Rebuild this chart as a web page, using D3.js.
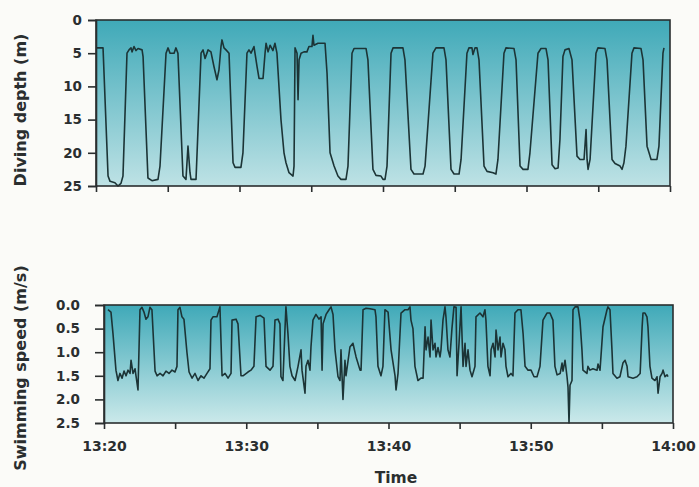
<!DOCTYPE html>
<html><head><meta charset="utf-8">
<script src="https://cdn.jsdelivr.net/npm/d3@7"></script>
<style>
html,body{margin:0;padding:0;background:#fbfbf8;}
svg{display:block;font-family:"DejaVu Sans",sans-serif;}
</style></head>
<body><svg id="c" width="699" height="487"></svg>
<script>
// minutes after 13:20
const depthTime = [0.00,0.07,0.49,0.84,0.98,1.32,1.53,1.74,1.88,2.16,2.30,2.44,2.51,2.65,2.79,2.93,3.21,3.28,3.62,3.90,4.32,4.46,4.88,5.02,5.16,5.44,5.57,5.71,6.06,6.27,6.41,6.55,6.62,6.97,7.32,7.46,7.60,7.81,8.01,8.22,8.43,8.57,8.71,8.78,8.92,9.06,9.27,9.55,9.69,10.10,10.24,10.52,10.66,10.80,11.01,11.22,11.36,11.64,11.78,11.85,11.99,12.13,12.33,12.47,12.61,12.89,13.10,13.24,13.45,13.73,13.80,13.87,14.01,14.08,14.15,14.29,14.49,14.70,14.84,15.05,15.12,15.19,15.47,15.96,16.10,16.31,16.59,16.86,17.07,17.42,17.56,17.84,17.98,18.82,18.95,19.30,19.51,19.86,20.00,20.14,20.28,20.56,20.70,21.39,21.53,21.95,22.16,22.79,22.93,23.48,23.69,24.25,24.39,24.74,24.95,25.30,25.44,25.85,25.99,26.20,26.27,26.41,26.55,26.69,27.04,27.25,27.67,27.87,28.01,28.43,28.57,29.13,29.27,29.55,29.76,30.10,30.24,30.80,31.01,31.36,31.50,31.78,31.99,32.20,32.33,32.54,32.68,32.96,33.17,33.52,33.73,34.01,34.15,34.22,34.29,34.43,34.84,34.98,35.47,35.61,35.96,36.17,36.52,36.66,36.79,36.93,37.35,37.49,37.98,38.12,38.40,38.54,38.68,39.09,39.23,39.51,39.58];
const depthValue = [4.2,4.2,4.2,23.5,24.3,24.5,25.0,24.6,23.5,5.0,4.5,4.2,4.8,4.0,4.6,4.3,4.5,5.5,23.8,24.2,24.0,22.0,5.0,4.2,5.0,5.0,4.2,5.0,23.5,24.0,19.0,23.0,24.0,24.0,5.0,4.5,5.8,4.5,4.8,7.0,9.0,7.5,4.0,3.0,4.2,4.5,5.0,21.5,22.2,22.2,20.0,5.0,4.5,5.0,4.0,7.0,8.8,8.8,5.0,3.5,4.8,3.8,4.6,3.5,5.0,15.0,20.0,21.5,23.0,23.5,22.0,4.2,5.0,12.0,6.0,5.0,4.8,4.8,4.0,4.0,2.3,3.8,3.5,3.5,8.0,20.0,22.0,23.5,24.0,24.0,22.0,5.0,4.3,4.3,6.0,22.5,23.4,23.5,24.0,24.0,22.0,5.0,4.2,4.2,6.0,22.5,23.2,23.2,22.0,5.0,4.2,4.2,6.0,22.5,23.2,23.2,21.0,5.0,4.2,4.2,5.2,4.2,4.2,6.0,22.0,22.8,23.0,23.2,21.0,5.0,4.2,4.3,6.0,22.0,22.5,22.5,20.0,5.0,4.3,4.3,6.0,21.8,22.4,22.3,18.0,5.5,4.5,4.3,6.0,20.5,21.0,21.0,16.5,21.0,22.5,21.0,5.0,4.2,4.3,6.0,21.0,21.6,22.0,22.5,21.5,19.0,5.0,4.2,4.3,6.0,19.0,20.0,21.0,21.0,19.0,5.0,4.2];

const speedTime = [0.28,0.49,0.63,0.84,0.98,1.12,1.27,1.41,1.55,1.69,1.83,1.90,2.04,2.18,2.25,2.39,2.53,2.67,2.81,2.95,3.09,3.23,3.37,3.59,3.73,3.94,4.15,4.36,4.57,4.78,4.99,5.13,5.20,5.34,5.48,5.62,5.83,5.98,6.19,6.40,6.61,6.82,7.03,7.24,7.45,7.52,7.66,7.94,8.15,8.30,8.51,8.72,8.93,9.00,9.28,9.42,9.63,9.77,10.12,10.33,10.54,10.69,10.97,11.25,11.39,11.67,11.88,12.02,12.23,12.37,12.44,12.58,12.72,12.79,12.93,13.07,13.22,13.43,13.64,13.85,13.92,14.13,14.20,14.34,14.48,14.55,14.69,14.90,15.11,15.26,15.33,15.40,15.61,15.82,15.96,16.10,16.24,16.45,16.59,16.66,16.80,16.94,17.01,17.29,17.50,17.72,18.00,18.07,18.21,18.42,18.70,19.05,19.12,19.26,19.47,19.61,19.75,19.97,20.18,20.46,20.53,20.67,20.88,21.16,21.37,21.51,21.58,21.72,21.86,22.07,22.28,22.43,22.57,22.64,22.78,22.92,22.99,23.13,23.27,23.34,23.48,23.62,23.69,23.83,23.97,24.04,24.18,24.32,24.46,24.60,24.75,24.82,24.96,25.10,25.24,25.38,25.45,25.59,25.73,25.87,26.08,26.15,26.43,26.64,26.78,26.85,26.99,27.14,27.21,27.35,27.49,27.56,27.70,27.84,27.91,28.05,28.19,28.26,28.40,28.61,28.75,28.89,29.10,29.31,29.46,29.60,29.81,30.02,30.23,30.44,30.65,30.86,31.14,31.35,31.56,31.70,31.85,32.07,32.20,32.27,32.41,32.55,32.62,32.69,32.76,32.90,32.97,33.11,33.32,33.46,33.60,33.67,33.95,34.02,34.16,34.37,34.66,34.73,34.87,35.08,35.36,35.43,35.57,35.71,35.78,36.06,36.27,36.48,36.63,36.77,36.84,37.19,37.47,37.69,37.83,37.89,38.03,38.17,38.24,38.38,38.52,38.73,38.88,38.95,39.09,39.23,39.30,39.44,39.58,39.65];
const speedValue = [0.10,0.15,0.60,1.38,1.60,1.45,1.55,1.40,1.50,1.38,1.45,1.17,1.45,1.35,1.50,1.80,0.10,0.05,0.15,0.30,0.25,0.05,0.10,1.40,1.50,1.45,1.50,1.40,1.45,1.38,1.42,1.30,0.10,0.05,0.25,0.30,1.00,1.42,1.55,1.45,1.60,1.50,1.55,1.45,1.35,0.32,0.25,0.25,0.04,1.50,1.45,1.55,1.45,0.32,0.30,0.40,1.50,1.50,1.42,1.38,1.30,0.25,0.22,0.28,1.30,1.38,1.30,0.32,0.30,0.40,1.52,1.60,0.53,0.04,0.60,1.30,1.50,1.60,1.30,0.95,1.38,1.87,1.30,1.17,1.38,0.89,0.32,0.20,0.30,0.25,1.38,0.40,0.20,0.10,0.04,0.20,0.95,1.52,1.60,0.95,2.00,1.17,1.50,0.89,0.81,1.10,1.38,1.38,0.10,0.07,0.08,0.10,0.25,1.30,1.50,1.30,0.10,0.15,0.95,1.50,1.80,1.45,0.17,0.10,0.10,0.04,0.32,0.50,1.30,1.60,1.55,1.55,0.46,0.95,0.68,1.10,0.32,0.95,0.81,1.10,0.90,1.10,0.95,0.32,0.04,0.25,0.95,1.10,0.50,0.04,0.05,1.50,0.80,0.04,1.30,0.81,1.30,0.95,1.38,1.52,1.30,0.25,0.17,0.25,0.10,0.32,1.30,1.50,0.95,0.81,1.10,0.53,0.95,0.68,1.10,0.81,0.95,1.30,1.52,1.45,1.50,0.17,0.10,0.10,0.60,1.30,1.38,1.38,1.52,1.52,1.30,0.32,0.17,0.17,0.32,1.30,1.48,1.45,1.23,1.40,1.17,1.52,1.74,2.50,1.70,1.60,0.10,0.04,0.04,0.32,0.95,1.38,1.45,1.30,1.38,1.35,1.38,1.25,1.38,0.46,0.10,0.04,0.10,0.95,1.45,1.55,1.52,1.23,1.17,1.30,1.52,1.55,1.52,1.45,0.46,0.17,0.17,0.25,0.46,1.30,1.55,1.60,1.52,1.87,1.52,1.45,1.38,1.52,1.48,1.52];

const depthTicks = [0,5,10,15,20,25];
const speedTicks = [0.0,0.5,1.0,1.5,2.0,2.5];

const base = new Date(2000,0,1,13,20,0);
const toDate = m => new Date(base.getTime() + m*60000);
const end = toDate(40);

const svg = d3.select("#c");
const defs = svg.append("defs");
function grad(id, c0, c1){
  const g = defs.append("linearGradient").attr("id",id).attr("x1",0).attr("y1",0).attr("x2",0).attr("y2",1);
  g.append("stop").attr("offset","0%").attr("stop-color",c0);
  g.append("stop").attr("offset","100%").attr("stop-color",c1);
}
grad("bg1","#3fa9b8","#bee2e5");
grad("bg2","#3fa9b8","#cbe9ea");

const ink = "#2a2e2f";
const lineCol = "#1c3436";
const FONT = "'DejaVu Sans',sans-serif";

function panel(opts){
  const x = d3.scaleTime().domain([base,end]).range(opts.xr);
  const y = d3.scaleLinear().domain(opts.yd).range(opts.yr);
  const [x0,x1] = opts.xr, [y0,y1] = opts.yr;
  svg.append("rect").attr("x",x0).attr("y",y0).attr("width",x1-x0).attr("height",y1-y0)
    .attr("fill",`url(#${opts.grad})`);
  const line = d3.line().x(d=>x(toDate(d[0]))).y(d=>y(d[1]));
  const pts = opts.t.map((t,i)=>[t,opts.v[i]]);
  svg.append("path").attr("d",line(pts)).attr("fill","none").attr("stroke",lineCol)
    .attr("stroke-width",1.6).attr("stroke-linejoin","round");
  svg.append("rect").attr("x",x0).attr("y",y0).attr("width",x1-x0).attr("height",y1-y0)
    .attr("fill","none").attr("stroke",ink).attr("stroke-width",1.6);
  // y axis
  const ya = svg.append("g").attr("transform",`translate(${x0},0)`)
    .call(d3.axisLeft(y).tickValues(opts.yticks).tickSize(opts.ytick).tickPadding(opts.ypad).tickFormat(opts.yfmt));
  ya.select(".domain").attr("stroke",ink).attr("stroke-width",1.6);
  ya.selectAll(".tick line").attr("stroke",ink).attr("stroke-width",1.6);
  ya.selectAll("text").attr("fill",ink).attr("font-size",13.5).attr("font-weight","bold")
    .attr("font-family",FONT);
  // x axis
  const xa = svg.append("g").attr("transform",`translate(0,${y1})`)
    .call(d3.axisBottom(x).ticks(d3.timeMinute.every(5)).tickSize(6).tickPadding(12)
      .tickFormat(d => opts.showX && d.getMinutes()%10===0 ? d3.timeFormat("%H:%M")(d) : ""));
  xa.select(".domain").remove();
  xa.selectAll(".tick line").attr("stroke",ink).attr("stroke-width",1.6);
  xa.selectAll("text").attr("fill",ink).attr("font-size",14).attr("font-weight","bold")
    .attr("font-family",FONT);
  // y title
  svg.append("text").attr("transform",`translate(${opts.titleX},${opts.titleY}) rotate(-90)`)
    .attr("text-anchor","middle").attr("font-size",16).attr("font-weight","bold").attr("fill",ink)
    .attr("font-family",FONT).text(opts.title);
}

panel({xr:[96,670], yr:[20,186], yd:[0,25], t:depthTime, v:depthValue, grad:"bg1",
  yticks:depthTicks, yfmt:d3.format("d"), ytick:8, ypad:6, showX:false,
  title:"Diving depth (m)", titleX:26, titleY:110});
panel({xr:[104,673], yr:[305,423], yd:[0,2.5], t:speedTime, v:speedValue, grad:"bg2",
  yticks:speedTicks, yfmt:d3.format(".1f"), ytick:9, ypad:15, showX:true,
  title:"Swimming speed (m/s)", titleX:26, titleY:368});

svg.append("text").attr("x",396).attr("y",483).attr("text-anchor","middle")
  .attr("font-size",15.5).attr("font-weight","bold").attr("fill",ink).attr("font-family",FONT).text("Time");
</script></body></html>
